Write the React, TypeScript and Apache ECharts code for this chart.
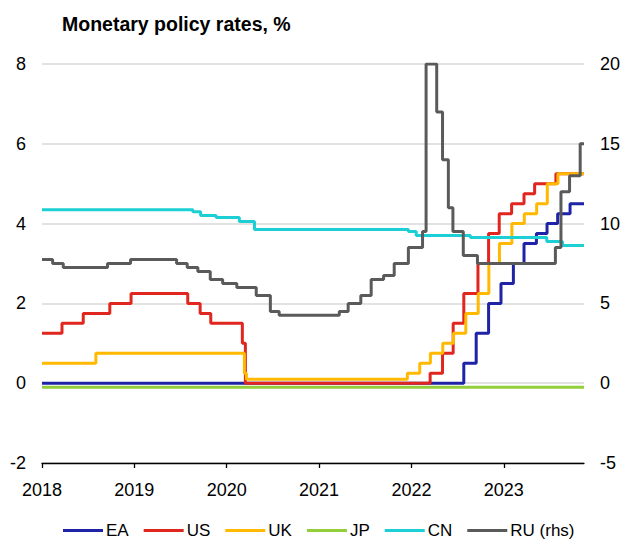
import React, { useEffect, useRef } from "react";
import * as echarts from "echarts";

const X_START = "2018-01-01";
const X_END = "2023-11-14";
const YEAR_TICKS = [2018, 2019, 2020, 2021, 2022, 2023];
const LEFT_TICKS = { min: -2, max: 8, interval: 2 };
const RIGHT_TICKS = { min: -5, max: 20, interval: 5 };

const EA_DATES = ["2018-01-01", "2022-07-27", "2022-09-14", "2022-11-02", "2022-12-21", "2023-02-08", "2023-03-22", "2023-05-10", "2023-06-21", "2023-08-02", "2023-09-20"];
const EA_VALUES = [0, 0.5, 1.25, 2.0, 2.5, 3.0, 3.5, 3.75, 4.0, 4.25, 4.5];

const US_DATES = ["2018-01-01", "2018-03-21", "2018-06-13", "2018-09-26", "2018-12-19", "2019-07-31", "2019-09-18", "2019-10-30", "2020-03-03", "2020-03-15", "2022-03-16", "2022-05-04", "2022-06-15", "2022-07-27", "2022-09-21", "2022-11-02", "2022-12-14", "2023-02-01", "2023-03-22", "2023-05-03", "2023-07-26"];
const US_VALUES = [1.25, 1.5, 1.75, 2.0, 2.25, 2.0, 1.75, 1.5, 1.0, 0.0, 0.25, 0.75, 1.5, 2.25, 3.0, 3.75, 4.25, 4.5, 4.75, 5.0, 5.25];

const UK_DATES = ["2018-01-01", "2018-08-02", "2020-03-11", "2020-03-19", "2021-12-16", "2022-02-03", "2022-03-17", "2022-05-05", "2022-06-16", "2022-08-04", "2022-09-22", "2022-11-03", "2022-12-15", "2023-02-02", "2023-03-23", "2023-05-11", "2023-06-22", "2023-08-03"];
const UK_VALUES = [0.5, 0.75, 0.25, 0.1, 0.25, 0.5, 0.75, 1.0, 1.25, 1.75, 2.25, 3.0, 3.5, 4.0, 4.25, 4.5, 5.0, 5.25];

const JP_DATES = ["2018-01-01"];
const JP_VALUES = [-0.1];

const CN_DATES = ["2018-01-01", "2019-08-20", "2019-09-20", "2019-11-20", "2020-02-20", "2020-04-20", "2021-12-20", "2022-01-20", "2022-08-22", "2023-06-20", "2023-08-21"];
const CN_VALUES = [4.35, 4.3, 4.2, 4.15, 4.05, 3.85, 3.8, 3.7, 3.65, 3.55, 3.45];

const RU_DATES = ["2018-01-01", "2018-02-12", "2018-03-26", "2018-09-17", "2018-12-17", "2019-06-17", "2019-07-29", "2019-09-09", "2019-10-28", "2019-12-16", "2020-02-10", "2020-04-27", "2020-06-22", "2020-07-27", "2021-03-22", "2021-04-26", "2021-06-15", "2021-07-26", "2021-09-13", "2021-10-25", "2021-12-20", "2022-02-14", "2022-02-28", "2022-04-11", "2022-05-04", "2022-05-27", "2022-06-14", "2022-07-25", "2022-09-19", "2023-07-24", "2023-08-15", "2023-09-18", "2023-10-30"];
const RU_VALUES = [7.75, 7.5, 7.25, 7.5, 7.75, 7.5, 7.25, 7.0, 6.5, 6.25, 6.0, 5.5, 4.5, 4.25, 4.5, 5.0, 5.5, 6.5, 6.75, 7.5, 8.5, 9.5, 20.0, 17.0, 14.0, 11.0, 9.5, 8.0, 7.5, 8.5, 12.0, 13.0, 15.0];

const SERIES_NAMES = ["EA", "US", "UK", "JP", "CN", "RU (rhs)"];
const COLORS = ["#1F23A6", "#E0261F", "#FFB900", "#92CF3A", "#1CCFD4", "#5A5A5A"];

const FONT = "'Liberation Sans', Arial, sans-serif";

function toYear(d: string): number {
  const [y, m, day] = d.split("-").map(Number);
  const start = Date.UTC(y, 0, 1);
  const next = Date.UTC(y + 1, 0, 1);
  return y + (Date.UTC(y, m - 1, day) - start) / (next - start);
}

function stepData(dates: string[], values: number[]): number[][] {
  const pts = dates.map((d, i) => [toYear(d), values[i]]);
  pts.push([toYear(X_END), values[values.length - 1]]);
  return pts;
}

export default function App() {
  const ref = useRef<HTMLDivElement>(null);

  useEffect(() => {
    if (!ref.current) return;
    const chart = echarts.init(ref.current, undefined, { renderer: "svg" });
    const datasets = [
      stepData(EA_DATES, EA_VALUES),
      stepData(US_DATES, US_VALUES),
      stepData(UK_DATES, UK_VALUES),
      stepData(JP_DATES, JP_VALUES),
      stepData(CN_DATES, CN_VALUES),
      stepData(RU_DATES, RU_VALUES),
    ];
    chart.setOption({
      animation: false,
      backgroundColor: "#ffffff",
      textStyle: { fontFamily: FONT },
      title: {
        text: "Monetary policy rates, %",
        left: 57,
        top: 9,
        textStyle: { fontSize: 19.5, fontWeight: "bold", color: "#000", fontFamily: FONT },
      },
      grid: { left: 42, right: 38, top: 64, bottom: 82, containLabel: false },
      legend: {
        left: 58,
        top: 517,
        icon: "rect",
        itemWidth: 40,
        itemHeight: 3,
        itemGap: 15,
        textStyle: { fontSize: 17, color: "#000", fontFamily: FONT, padding: [0, 0, 0, -2] },
        data: SERIES_NAMES,
      },
      xAxis: {
        type: "value",
        min: toYear(X_START),
        max: toYear(X_END),
        axisLine: { onZero: false, lineStyle: { color: "#000", width: 1.3 } },
        axisTick: { show: true, length: 5, customValues: YEAR_TICKS, lineStyle: { color: "#000", width: 1.3 } },
        axisLabel: {
          customValues: YEAR_TICKS,
          formatter: (v: number) => String(Math.round(v)),
          margin: 18,
          fontSize: 18,
          color: "#000",
          fontFamily: FONT,
        },
        splitLine: { show: false },
      },
      yAxis: [
        {
          type: "value",
          ...LEFT_TICKS,
          axisLine: { show: false },
          axisTick: { show: false },
          axisLabel: { margin: 16, fontSize: 18, color: "#000", fontFamily: FONT },
          splitLine: { show: true, lineStyle: { color: "#D9D9D9", width: 1.5 } },
        },
        {
          type: "value",
          ...RIGHT_TICKS,
          position: "right",
          axisLine: { show: false },
          axisTick: { show: false },
          axisLabel: { margin: 16, fontSize: 18, color: "#000", fontFamily: FONT },
          splitLine: { show: false },
        },
      ],
      series: SERIES_NAMES.map((name, i) => ({
        name,
        type: "line",
        step: "end",
        yAxisIndex: i === 5 ? 1 : 0,
        data: datasets[i],
        showSymbol: false,
        symbol: "none",
        color: COLORS[i],
        lineStyle: { color: COLORS[i], width: 3 },
        z: 2 + i,
      })),
    });
    return () => chart.dispose();
  }, []);

  return (
    <div
      ref={ref}
      style={{ position: "fixed", left: 0, top: 0, width: 623, height: 545, background: "#fff" }}
    />
  );
}
